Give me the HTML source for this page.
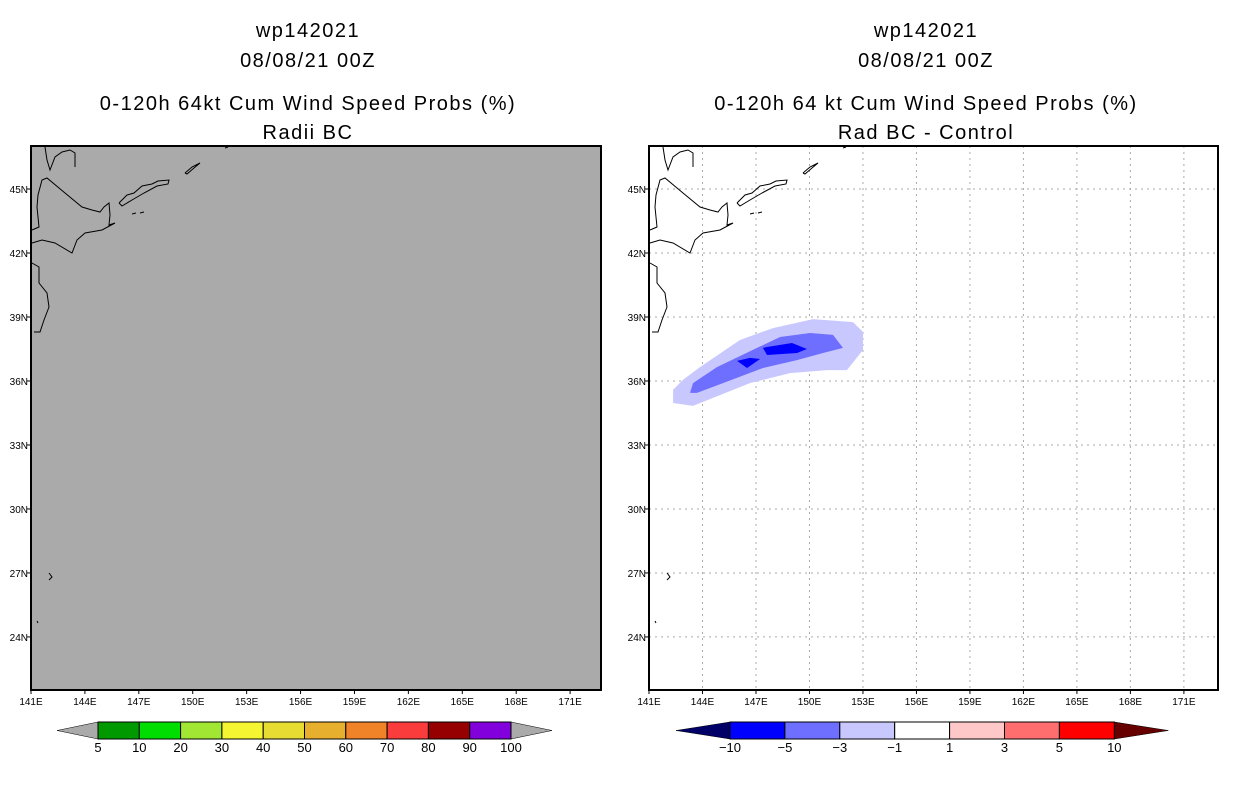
<!DOCTYPE html>
<html><head><meta charset="utf-8"><style>
body{margin:0;background:#fff;width:1236px;height:800px;overflow:hidden;font-family:"Liberation Sans",sans-serif}
svg text{font-family:"Liberation Sans",sans-serif}
</style></head><body>
<svg id="s" width="1236" height="800" xmlns="http://www.w3.org/2000/svg"></svg>
<script>
const lonTicks=[141,144,147,150,153,156,159,162,165,168,171];
const latTicks=[24,27,30,33,36,39,42,45];
const probLevels=["5","10","20","30","40","50","60","70","80","90","100"];
const probColors=["#009900","#00dd00","#a0e632","#f5f532","#e6dc32","#e6af2d","#f08228","#fa3c3c","#960000","#8200dc"];
const diffLevels=["-10","-5","-3","-1","1","3","5","10"];
const diffColors=["#0000ff","#6e6eff","#c8c8ff","#ffffff","#ffc8c8","#ff6e6e","#ff0000"];
const contourLight=[[142.35,34.97],[143.47,34.83],[146.66,35.9],[148.91,36.37],[150.98,36.51],[152.1,36.51],[153.0,37.45],[153.0,38.3],[152.44,38.76],[150.2,38.9],[147.95,38.48],[146.1,37.92],[143.86,36.65],[142.9,36.05],[142.35,35.58]];
const contourMid=[[143.3,35.44],[143.47,35.9],[144.81,36.65],[147.06,37.55],[148.35,38.06],[150.03,38.25],[151.32,38.16],[151.88,37.55],[150.76,37.31],[149.3,36.98],[147.39,36.61],[145.15,35.9],[143.69,35.44]];
const contourDark1=[[147.39,37.55],[147.62,37.22],[149.3,37.31],[149.86,37.5],[149.02,37.78],[147.62,37.59]];
const contourDark2=[[145.94,36.94],[146.5,36.61],[147.23,37.03],[146.66,37.08]];

const NS="http://www.w3.org/2000/svg";
const svg=document.getElementById('s');
function mk(t,a,p){const e=document.createElementNS(NS,t);for(const k in a)e.setAttribute(k,a[k]);(p||svg).appendChild(e);return e;}
const panels=[{x0:31,x1:601,kx:17.97,left:true},{x0:649,x1:1218,kx:17.83,left:false}];
const Y0=146,Y1=690,ky=21.33;
function px(p,lon){return p.x0+(lon-141)*p.kx;}
function py(lat){return 189+(45-lat)*ky;}

const coast=[
 [[663,147],[665,160],[668,170],[673,157],[680,152],[688,150],[693,153],[693,167]],
 [[650,243],[660,240],[673,243],[690,253],[695,240],[703,233],[720,230],[733,223],[727,225],[728,215],[727,203],[722,207],[718,212],[710,210],[700,207],[683,193],[665,178],[660,180],[656,195],[655,207],[657,227],[650,230]],
 [[650,263],[657,267],[657,283],[665,293],[667,307],[662,320],[658,332],[652,332]],
 [[737,203],[745,195],[752,193],[760,186],[770,184],[776,181],[787,180],[786,184],[775,186],[762,193],[750,200],[740,206],[737,203]],
 [[803,173],[810,167],[818,163],[812,168],[805,174],[803,173]],
 [[843,148],[846,147]],[[750,214],[754,213]],[[758,213],[762,212]],
 [[667,573],[670,577],[667,580]],[[655,621],[656,623]]
];

const titles=[["wp142021","08/08/21 00Z","0-120h 64kt Cum Wind Speed Probs (%)","Radii BC"],["wp142021","08/08/21 00Z","0-120h 64 kt Cum Wind Speed Probs (%)","Rad BC - Control"]];
const ty=[37,67,110,139];
panels.forEach((p,i)=>{
 const cx=i==0?308:926;
 titles[i].forEach((t,j)=>{const e=mk('text',{x:cx,y:ty[j],'text-anchor':'middle','font-size':'20','letter-spacing':'1.5'});e.textContent=t;
 
 });
 const bg=mk('rect',{x:p.x0,y:Y0,width:p.x1-p.x0,height:Y1-Y0,fill:p.left?'#aaaaaa':'#ffffff'});
 
 
 if(!p.left){
  const g=mk('g',{stroke:'#aaa','stroke-width':1,'stroke-dasharray':'2,4'});
  
  
  lonTicks.slice(1).forEach(l=>mk('line',{x1:px(p,l),x2:px(p,l),y1:Y0,y2:Y1},g));
  latTicks.forEach(l=>mk('line',{x1:p.x0,x2:p.x1,y1:py(l),y2:py(l)},g));
  [[contourLight,diffColors[2]],[contourMid,diffColors[1]],[contourDark1,diffColors[0]],[contourDark2,diffColors[0]]].forEach(([c,col],k)=>{
   const e=mk('polygon',{points:c.map(q=>px(p,q[0])+','+py(q[1])).join(' '),fill:col});
   
   
  });
 }
 const cg=mk('g',{fill:'none',stroke:'#000','stroke-width':1});
 
 
 const dx=p.x0-649;
 coast.forEach(c=>mk('polyline',{points:c.map(q=>(q[0]+dx)+','+q[1]).join(' ')},cg));
 const fr=mk('rect',{x:p.x0,y:Y0,width:p.x1-p.x0,height:Y1-Y0,fill:'none',stroke:'#000','stroke-width':2});
 
 
 lonTicks.forEach(l=>{const x=px(p,l);mk('line',{x1:x,x2:x,y1:Y1,y2:Y1+4,stroke:'#000'});
  const e=mk('text',{x:x,y:705,'text-anchor':'middle','font-size':'10'});e.textContent=l+'E';
  
  });
 latTicks.forEach(l=>{const y=py(l);mk('line',{x1:p.x0-4,x2:p.x0,y1:y,y2:y,stroke:'#000'});
  const e=mk('text',{x:p.x0-3,y:y+4,'text-anchor':'end','font-size':'10'});e.textContent=l+'N';
  
  });
});
function bar(x0,bw,cols,labs,lc,rc,tip,y0,y1){
 const g=mk('g',{});
 
 
 const n=cols.length,xe=x0+n*bw,ym=(y0+y1)/2;
 mk('polygon',{points:`${x0},${y0} ${x0-tip},${ym} ${x0},${y1}`,fill:lc,stroke:'#000','stroke-width':0.5},g);
 mk('polygon',{points:`${xe},${y0} ${xe+tip},${ym} ${xe},${y1}`,fill:rc,stroke:'#000','stroke-width':0.5},g);
 cols.forEach((c,i)=>mk('rect',{x:x0+i*bw,y:y0,width:bw,height:y1-y0,fill:c,stroke:'#000','stroke-width':1},g));
 labs.forEach((l,i)=>{const e=mk('text',{x:x0+i*bw,y:y1+13,'text-anchor':'middle','font-size':'13'},g);e.textContent=l.replace('-','\u2212');});
}
bar(98,41.3,probColors,probLevels,'#aaaaaa','#aaaaaa',41,722,739);
bar(730,54.9,diffColors,diffLevels,'#000066','#660000',54,722,739);
</script>
</body></html>
